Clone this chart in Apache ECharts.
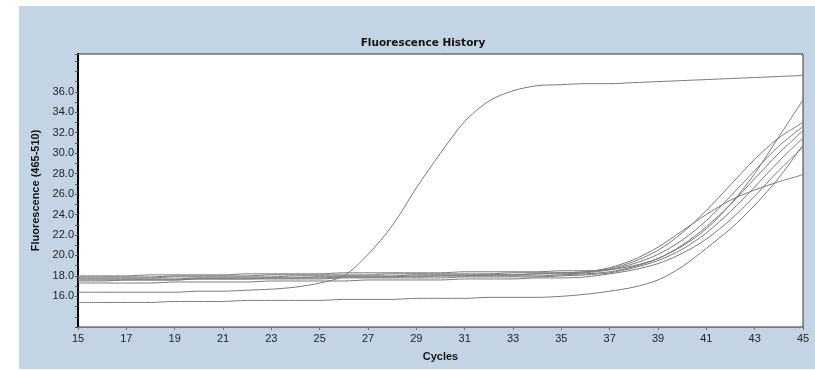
<!DOCTYPE html>
<html><head><meta charset="utf-8">
<script src="https://cdn.jsdelivr.net/npm/echarts@6/dist/echarts.min.js"></script>
<style>
html,body{margin:0;padding:0;background:#fff;width:815px;height:370px;overflow:hidden}
#chart{position:absolute;left:19px;top:6px;width:796px;height:363px;background:#c3d5e5}
</style></head><body>
<div id="chart"></div>
<script>
const cycles = ['15','16','17','18','19','20','21','22','23','24','25','26','27','28','29','30','31','32','33','34','35','36','37','38','39','40','41','42','43','44','45'];
const yTickLabels = [16,18,20,22,24,26,28,30,32,34,36];

const early = [16.4,16.4,16.4,16.4,16.4,16.5,16.5,16.6,16.7,16.9,17.3,18.0,20.1,22.9,26.6,30.0,33.1,35.1,36.1,36.6,36.7,36.8,36.8,36.9,37.0,37.1,37.2,37.3,37.4,37.5,37.6];
const low  = [15.4,15.4,15.4,15.4,15.5,15.5,15.5,15.6,15.6,15.6,15.6,15.7,15.7,15.7,15.8,15.8,15.8,15.9,15.9,15.9,16.0,16.2,16.5,16.9,17.6,18.9,20.7,22.6,24.9,27.6,30.8];
const c1   = [18.0,18.0,18.0,18.1,18.1,18.1,18.1,18.2,18.2,18.2,18.2,18.3,18.3,18.3,18.3,18.3,18.4,18.4,18.4,18.4,18.5,18.5,18.6,19.0,19.7,20.9,22.6,25.0,28.0,31.6,35.2];
const c2   = [17.9,17.9,17.9,17.9,18.0,18.0,18.0,18.0,18.1,18.1,18.1,18.1,18.1,18.2,18.2,18.2,18.2,18.2,18.3,18.3,18.3,18.4,18.7,19.4,20.5,22.2,24.4,26.9,29.4,31.5,33.0];
const c3   = [17.8,17.8,17.8,17.8,17.9,17.9,17.9,17.9,17.9,18.0,18.0,18.0,18.0,18.0,18.1,18.1,18.1,18.1,18.1,18.2,18.2,18.3,18.6,19.2,20.1,21.5,23.4,25.8,28.3,30.7,32.6];
const c4   = [17.7,17.7,17.7,17.7,17.7,17.8,17.8,17.8,17.8,17.8,17.9,17.9,17.9,17.9,17.9,18.0,18.0,18.0,18.0,18.0,18.1,18.2,18.4,18.9,19.7,21.0,22.8,25.0,27.5,30.0,32.2];
const c5   = [17.6,17.6,17.6,17.6,17.6,17.7,17.7,17.7,17.7,17.7,17.7,17.8,17.8,17.8,17.8,17.8,17.9,17.9,17.9,17.9,18.0,18.1,18.3,18.8,19.5,20.6,22.2,24.3,26.7,29.2,31.5];
const c6   = [17.5,17.5,17.6,17.6,17.6,17.7,17.7,17.7,17.8,17.8,17.8,17.9,17.9,17.9,18.0,18.0,18.0,18.1,18.1,18.2,18.3,18.4,18.8,19.6,20.8,22.4,24.0,25.4,26.4,27.2,27.9];
const c7   = [17.3,17.3,17.3,17.3,17.4,17.4,17.4,17.4,17.5,17.5,17.5,17.5,17.6,17.6,17.6,17.6,17.7,17.7,17.7,17.8,17.8,17.9,18.2,18.6,19.2,20.2,21.6,23.5,25.8,28.3,30.6];

const allSeries = [early, low, c1, c2, c3, c4, c5, c6, c7];

const chart = echarts.init(document.getElementById('chart'), null, {renderer:'canvas'});
const font = '"Liberation Sans", Arial, sans-serif';
chart.setOption({
  animation: false,
  backgroundColor: '#c3d5e5',
  title: {
    text: 'Fluorescence History',
    left: 399, top: 27, textAlign: 'center',
    textStyle: {fontFamily: '"DejaVu Sans", sans-serif', fontSize: 10.5, fontWeight: 'bold', color: '#111'}
  },
  grid: {left: 59, right: 12, top: 48, bottom: 42, show: true, backgroundColor: '#fff', borderColor: '#333', borderWidth: 1},
  xAxis: {
    type: 'category', data: cycles, boundaryGap: false,
    name: 'Cycles', nameLocation: 'middle', nameGap: 24,
    nameTextStyle: {fontFamily: font, fontSize: 11, fontWeight: 'bold', color: '#111'},
    axisLine: {lineStyle: {color: '#777', width: 1}},
    axisTick: {interval: 1, length: 3, lineStyle: {color: '#777'}},
    axisLabel: {interval: 1, fontFamily: font, fontSize: 11, color: '#222', margin: 6},
    splitLine: {show: false}
  },
  yAxis: {
    type: 'value', min: 13, max: 39.7, interval: 1,
    name: 'Fluorescence (465-510)', nameLocation: 'middle', nameGap: 37, nameRotate: 90,
    nameTextStyle: {fontFamily: font, fontSize: 11, fontWeight: 'bold', color: '#111'},
    axisLine: {show: true, lineStyle: {color: '#000', width: 2}},
    axisTick: {show: true, length: 3, lineStyle: {color: '#555'}},
    axisLabel: {
      fontFamily: font, fontSize: 11, color: '#222', margin: 4,
      formatter: v => yTickLabels.indexOf(v) >= 0 ? v.toFixed(1) : ''
    },
    splitLine: {show: false}
  },
  series: allSeries.map(d => ({
    type: 'line', data: d, showSymbol: false, symbol: 'none', smooth: 0.3,
    lineStyle: {color: '#7a7a7a', width: 1}
  }))
});
</script>
</body></html>
